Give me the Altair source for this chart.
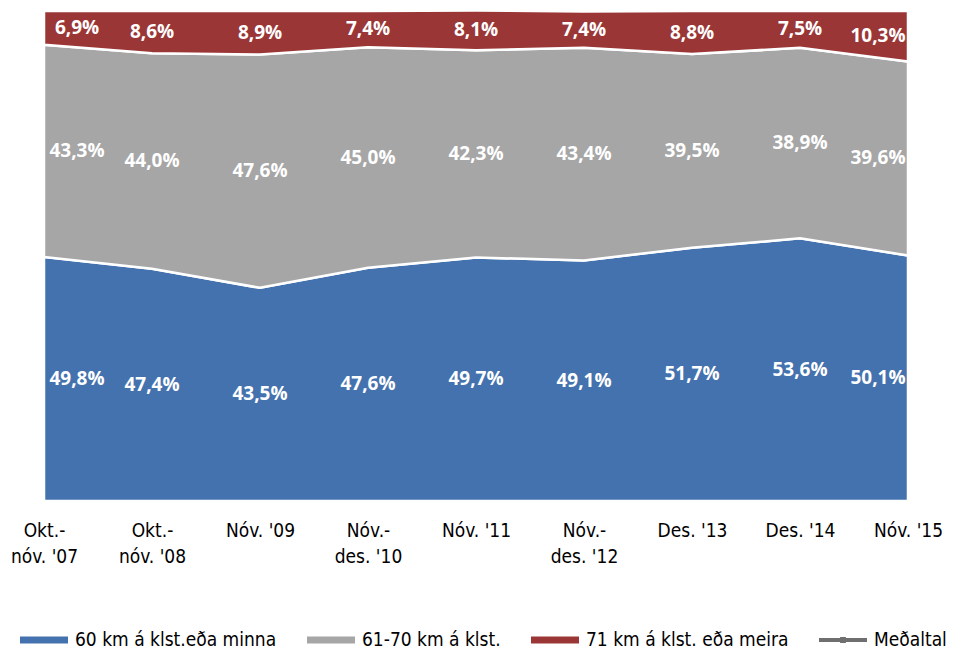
import altair as alt
import pandas as pd

categories = ["Okt.-nóv. '07", "Okt.-nóv. '08", "Nóv. '09", "Nóv.-des. '10", "Nóv. '11",
              "Nóv.-des. '12", "Des. '13", "Des. '14", "Nóv. '15"]
series = ["60 km á klst.eða minna", "61-70 km á klst.", "71 km á klst. eða meira"]
low = [49.8, 47.4, 43.5, 47.6, 49.7, 49.1, 51.7, 53.6, 50.1]
mid = [43.3, 44.0, 47.6, 45.0, 42.3, 43.4, 39.5, 38.9, 39.6]
high = [6.9, 8.6, 8.9, 7.4, 8.1, 7.4, 8.8, 7.5, 10.3]
legend_names = series + ["Meðaltal"]
colors = ["#4472AE", "#A6A6A6", "#9B3636", "#6F6F6F"]

rows = []
for s_i, (name, vals) in enumerate(zip(series, [low, mid, high])):
    for c_i, (cat, v) in enumerate(zip(categories, vals)):
        rows.append({"cat": cat, "ci": c_i, "series": name, "si": s_i, "value": v,
                     "label": f"{v:.1f}".replace(".", ",") + "%"})
df = pd.DataFrame(rows)

FONT_NARROW = "DejaVu Sans Condensed, Roboto, sans-serif"
FONT_BOLD = "Open Sans"

x_scale = alt.Scale(type="point", padding=0)
y_scale = alt.Scale(domain=[0, 100], nice=False)

x_enc = alt.X("cat:N", sort=categories, scale=x_scale, title=None,
              axis=alt.Axis(labelAngle=0, domain=False, ticks=False, grid=False,
                            labelFont=FONT_NARROW, labelFontSize=19, labelColor="#000000",
                            labelPadding=20, labelLineHeight=26, labelBaseline="top",
                            labelExpr="indexof(datum.label, '-') > 0 ? [substring(datum.label, 0, indexof(datum.label, '-') + 1), substring(datum.label, indexof(datum.label, '-') + 1)] : datum.label"))
y_enc = alt.Y("value:Q", stack="zero", scale=y_scale, axis=None, title=None)

area = alt.Chart(df).mark_area(stroke="white", strokeWidth=2.5, opacity=1).encode(
    x=x_enc, y=y_enc,
    fill=alt.Fill("series:N", scale=alt.Scale(domain=series, range=colors[:3]), legend=None),
    order=alt.Order("si:Q"),
)

def text_layer(filter_expr, dx):
    return alt.Chart(df).transform_filter(filter_expr).transform_stack(
        stack="value", groupby=["cat"], as_=["v0", "v1"], sort=[alt.SortField("si", order="ascending")]
    ).transform_calculate(mid="(datum.v0 + datum.v1) / 2").mark_text(
        font=FONT_BOLD, fontWeight="bold", fontSize=19, color="white", align="center", dx=dx, baseline="middle"
    ).encode(
        x=alt.X("cat:N", sort=categories, scale=x_scale),
        y=alt.Y("mid:Q", scale=y_scale),
        text="label:N",
    )

texts = alt.layer(
    text_layer("datum.ci == 0", 33),
    text_layer("datum.ci > 0 && datum.ci < 8", 0),
    text_layer("datum.ci == 8", -30),
)

line_path = "M-1,-0.08H1V0.08H-1Z M-0.12,-0.13H0.12V0.13H-0.12Z"
bar_path = "M-1,-0.15H1V0.15H-1Z"

legend_layer = alt.Chart(df).transform_filter("false").mark_point(filled=True, opacity=1).encode(
    x=alt.X("cat:N", sort=categories, scale=x_scale),
    y=alt.Y("value:Q", scale=y_scale),
    color=alt.Color("series:N", title=None,
                    scale=alt.Scale(domain=legend_names, range=colors),
                    legend=alt.Legend(orient="none", legendX=-24, legendY=605, direction="horizontal",
                                      columns=4, symbolSize=2304, labelFont=FONT_NARROW,
                                      labelFontSize=19, labelColor="#000000", labelOffset=7,
                                      columnPadding=30, padding=0, symbolStrokeWidth=0,
                                      symbolOpacity=1, gridAlign="each", labelLimit=400)),
    shape=alt.Shape("series:N", title=None,
                    scale=alt.Scale(domain=legend_names, range=[bar_path, bar_path, bar_path, line_path])),
)

chart = alt.layer(area, texts, legend_layer).properties(
    width=864, height=490, padding={"left": 36, "top": 3, "right": 47, "bottom": 152},
    autosize=alt.AutoSizeParams(type="none"),
).configure_view(stroke=None).configure(background="white")

chart.save("out.html", embed_options={"renderer": "svg", "actions": False})
